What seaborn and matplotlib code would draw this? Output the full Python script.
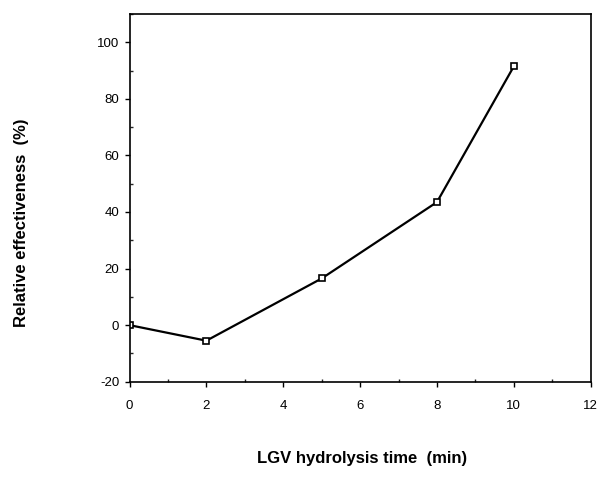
import matplotlib
matplotlib.use("Agg")
import matplotlib.pyplot as plt
import seaborn as sns
import pandas as pd
from matplotlib.ticker import MultipleLocator

time_min = [0, 2, 5, 8, 10]
effectiveness = [0, -5.5, 16.5, 43.5, 91.5]
x_ticks = [0, 2, 4, 6, 8, 10, 12]
y_ticks = [-20, 0, 20, 40, 60, 80, 100]

df = pd.DataFrame({"time": time_min, "eff": effectiveness})

sns.set_theme(style="ticks")
plt.rcParams["font.family"] = ["Liberation Sans", "DejaVu Sans"]
plt.rcParams["axes.unicode_minus"] = False
plt.rcParams["text.color"] = "black"

fig = plt.figure(figsize=(5.97, 4.79), dpi=100)
ax = fig.add_axes([129.5/597, 1-381.7/479, (590.7-129.5)/597, (381.7-14)/479])

sns.lineplot(data=df, x="time", y="eff", ax=ax, color="black", linewidth=1.6,
             marker="s", markersize=4.5, markerfacecolor="white",
             markeredgecolor="black", markeredgewidth=1.2)

ax.set_xlim(0, 12)
ax.set_ylim(-20, 110)
ax.set_xticks(x_ticks)
ax.set_yticks(y_ticks)
ax.xaxis.set_minor_locator(MultipleLocator(1))
ax.yaxis.set_minor_locator(MultipleLocator(10))
ax.tick_params(axis="both", which="major", direction="out", length=3.8, width=1,
               labelsize=9.5, colors="black")
ax.tick_params(axis="x", which="major", pad=9.5)
ax.tick_params(axis="y", which="major", pad=3.6)
ax.tick_params(axis="both", which="minor", direction="in", length=2.4, width=1)
for s in ax.spines.values():
    s.set_visible(True)
    s.set_linewidth(1.2)
    s.set_color("black")
ax.set_xlabel("")
ax.set_ylabel("")

fig.text(362.4/597, 1-459/479, "LGV hydrolysis time  (min)", ha="center", va="center",
         fontsize=12, fontweight="bold", color="black")
fig.text(21.5/597, 1-223/479, "Relative effectiveness  (%)", ha="center", va="center",
         rotation=90, fontsize=12, fontweight="bold", color="black")

fig.savefig("out.png", dpi=100, facecolor="white")
